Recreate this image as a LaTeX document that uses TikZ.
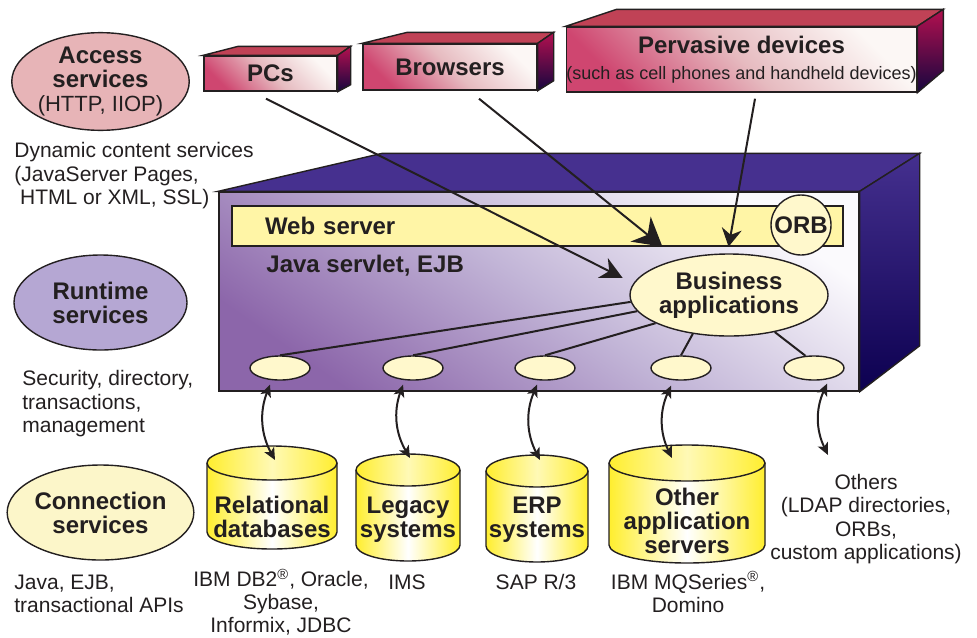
\documentclass[tikz,border=0pt]{standalone}
\usepackage{fontspec}
\setmainfont{Liberation Sans}
\usetikzlibrary{arrows.meta,calc,shapes.geometric}

\definecolor{accfill}{HTML}{E7B4B7}
\definecolor{runfill}{HTML}{B5A7D3}
\definecolor{confill}{HTML}{FCF6C9}
\definecolor{palefill}{HTML}{FFF8CC}
\definecolor{webfill}{HTML}{FFF5A6}
\definecolor{devdark}{HTML}{CF4670}
\definecolor{devmid}{HTML}{E6BBC0}
\definecolor{devlight}{HTML}{FCF7F5}
\definecolor{devtop}{HTML}{C04256}
\definecolor{devsideT}{HTML}{B3104F}
\definecolor{devsideB}{HTML}{16063F}
\definecolor{srvdark}{HTML}{8C66AA}
\definecolor{srvmid}{HTML}{C2B5D7}
\definecolor{srvlight}{HTML}{FBFAFD}
\definecolor{srvtop}{HTML}{46308F}
\definecolor{srvsideT}{HTML}{45308F}
\definecolor{srvsideB}{HTML}{0C0050}
\definecolor{cylyel}{HTML}{FFEE2E}
\definecolor{inkgray}{HTML}{231F20}

\newcommand{\plainfont}{\fontsize{10.5}{11.75}\selectfont}
\newcommand{\boldfont}{\fontsize{12}{12}\selectfont\bfseries}

% cylinder: name, cx, y of top, y of bottom, rx, ry
\newcommand{\drum}[6]{%
  \shade[drumshade] (#2-#5,#3) -- (#2-#5,#4) arc[start angle=180,end angle=0,x radius=#5,y radius=#6]
    -- (#2+#5,#3) arc[start angle=0,end angle=-180,x radius=#5,y radius=#6] -- cycle;
  \draw[edge] (#2-#5,#3) -- (#2-#5,#4) arc[start angle=180,end angle=0,x radius=#5,y radius=#6] -- (#2+#5,#3);
  \shade[drumtop] (#2,#3) ellipse[x radius=#5,y radius=#6];
  \coordinate (#1) at (#2,#3);
}

\tikzset{
  edge/.style={draw=inkgray, line width=0.7pt},
  svc/.style={ellipse, edge, minimum width=86.5pt, minimum height=47.5pt, inner sep=0pt,
    align=center, font=\boldfont, text=inkgray},
  note/.style={anchor=west, align=left, inner sep=0pt, font=\plainfont, text=inkgray},
  under/.style={align=center, inner sep=0pt, font=\plainfont, text=inkgray},
  devbox/.style={edge, bottom color=devdark, top color=devlight, middle color=devmid,
    shading angle=-45, font=\boldfont, text=inkgray, inner sep=0pt, align=center},
  pale/.style={edge, fill=palefill, inner sep=0pt, font=\boldfont, text=inkgray, align=center},
  smallell/.style={ellipse, edge, fill=palefill, minimum width=30pt, minimum height=12pt, inner sep=0pt},
  drumshade/.style={left color=cylyel, right color=cylyel, middle color=white},
  drumtop/.style={edge, left color=cylyel, right color=cylyel, middle color=cylyel!35!white},
  drumtext/.style={align=center, inner sep=0pt, font=\boldfont, text=inkgray},
  link/.style={draw=inkgray, line width=1pt},
  twoway/.style={link, {Stealth[length=6pt,width=5.5pt,inset=1.5pt]}-{Stealth[length=6pt,width=5.5pt,inset=1.5pt]}},
}

\begin{document}
\begin{tikzpicture}[x=0.5pt,y=-0.5pt]
\useasboundingbox (0,0) rectangle (977,637);

% left column
\node[svc, fill=accfill] (acc) at (100.5,81.5) {Access\\services\\{\fontsize{11}{12}\selectfont\mdseries(HTTP, IIOP)}};
\node[note] (dyn) at (14,176) {Dynamic content services\\(JavaServer Pages,\\\ HTML or XML, SSL)};
\node[svc, fill=runfill] (run) at (100.5,302.5) {Runtime\\services};
\node[note] (sec) at (22,404) {Security, directory,\\transactions,\\management};
\node[svc, fill=confill] (con) at (100.5,512.5) {Connection\\services};
\node[note] (jav) at (14,594) {Java, EJB,\\transactional APIs};

% application server box
\node[edge, bottom color=srvdark, top color=srvlight, middle color=srvmid, shading angle=-35,
  minimum width=320pt, minimum height=99.5pt, inner sep=0pt] (server) at (539,291.5) {};
\filldraw[edge, fill=srvtop] (server.north west) -- ++(164,-38) -- ($(server.north east)+(60,-38)$)
  -- (server.north east) -- cycle;
\shade[edge, top color=srvsideT, bottom color=srvsideB] (server.north east) -- ++(60,-38)
  -- ($(server.south east)+(60,-46)$) -- (server.south east) -- cycle;

\node[edge, fill=webfill, minimum width=305.5pt, minimum height=20pt, text width=272.5pt,
  inner xsep=16.5pt, inner ysep=0pt, align=left, font=\boldfont, text=inkgray] (web) at (537.5,226) {Web server};
\node[pale, circle, minimum size=30pt] (orb) at (801,225) {ORB};
\node[anchor=west, inner sep=0pt, font=\boldfont, text=inkgray] (jsv) at (266,266) {Java servlet, EJB};
\node[pale, ellipse, minimum width=91pt, minimum height=41pt] (biz) at (729,295) {Business\\applications};

\node[smallell] (e1) at (280,368) {};
\node[smallell] (e2) at (413,368) {};
\node[smallell] (e3) at (545,368) {};
\node[smallell] (e4) at (681,368) {};
\node[smallell] (e5) at (814,368) {};

\draw[link] (e1.north) -- (biz.184);
\draw[link] (e2.north) -- (biz.190);
\draw[link] (e3.north) -- (biz.201);
\draw[link] (e4.north) -- (biz.227);
\draw[link] (e5.125) -- (biz.321);

% clients
\node[devbox, minimum width=66.5pt, minimum height=17.5pt] (pcs) at (270.5,73.5) {PCs};
\filldraw[edge, fill=devtop] (pcs.north west) -- ++(35,-9) -- ($(pcs.north east)+(13,-9)$) -- (pcs.north east) -- cycle;
\shade[edge, top color=devsideT, bottom color=devsideB] (pcs.north east) -- ++(13,-9)
  -- ($(pcs.south east)+(13,-7)$) -- (pcs.south east) -- cycle;

\node[devbox, minimum width=87pt, minimum height=23pt] (brw) at (450,67) {Browsers};
\filldraw[edge, fill=devtop] (brw.north west) -- ++(45,-11) -- ($(brw.north east)+(16,-11)$) -- (brw.north east) -- cycle;
\shade[edge, top color=devsideT, bottom color=devsideB] (brw.north east) -- ++(16,-11)
  -- ($(brw.south east)+(16,-10)$) -- (brw.south east) -- cycle;

\node[devbox, minimum width=172.5pt, minimum height=32.5pt] (pvd) at (741.5,59.5)
  {Pervasive devices\\[1pt]{\fontsize{9}{10}\selectfont\mdseries(such as cell phones and handheld devices)}};
\filldraw[edge, fill=devtop] (pvd.north west) -- ++(51,-17) -- ($(pvd.north east)+(26,-17)$) -- (pvd.north east) -- cycle;
\shade[edge, top color=devsideT, bottom color=devsideB] (pvd.north east) -- ++(26,-17)
  -- ($(pvd.south east)+(26,-22)$) -- (pvd.south east) -- cycle;

\draw[link, -{Stealth[length=11pt,width=11pt,inset=3.5pt]}, shorten >=6pt]
  ([shift={(-4.5,7)}]pcs.south) -- (biz.173);
\draw[link, -{Stealth[length=14pt,width=16pt,inset=4.5pt]}]
  ([shift={(29,8)}]brw.south) -- ($(web.south west)!0.704!(web.south east)$);
\draw[link, -{Stealth[length=9pt,width=10pt,inset=3pt]}]
  ([shift={(13.5,6)}]pvd.south) -- ($(web.south west)!0.812!(web.south east)$);

% back ends
\drum{rdb}{272}{463}{532}{65}{17}
\drum{leg}{408}{470}{545}{52}{16}
\drum{erp}{537}{471}{546}{51}{16}
\drum{oas}{687}{463}{545}{78}{18}

\node[drumtext] (rdbt) at (272,517) {Relational\\databases};
\node[drumtext] (legt) at (408,520) {Legacy\\systems};
\node[drumtext] (erpt) at (537,520) {ERP\\systems};
\node[drumtext] (oast) at (687,521) {Other\\application\\servers};

\coordinate (oth) at (828,455);
\node[under] (othl) at (866,519) {Others\\(LDAP directories,\\ORBs,\\custom applications)};

\node[under, font=\fontsize{10.5}{11.4}\selectfont] (rdbl) at (281,602) {IBM DB2\textsuperscript{®}, Oracle,\\Sybase,\\Informix, JDBC};
\node[under] (legl) at (407,582) {IMS};
\node[under] (erpl) at (536,582) {SAP R/3};
\node[under] (oasl) at (688,592) {IBM MQSeries\textsuperscript{®},\\Domino};

\draw[twoway] ([shift={(-10,4)}]e1.south) to[bend right=25] ([shift={(3,-3)}]rdb);
\draw[twoway] ([shift={(-10,4)}]e2.south) to[bend right=25] ([shift={(2,-12)}]leg);
\draw[twoway] ([shift={(-8,4)}]e3.south) to[bend right=25] ([shift={(3,-11)}]erp);
\draw[twoway] ([shift={(-10,5)}]e4.south) to[bend right=25] ([shift={(-15,-5)}]oas);
\draw[twoway] ([shift={(13,3)}]e5.south) to[bend right=25] (oth);

\end{tikzpicture}
\end{document}
